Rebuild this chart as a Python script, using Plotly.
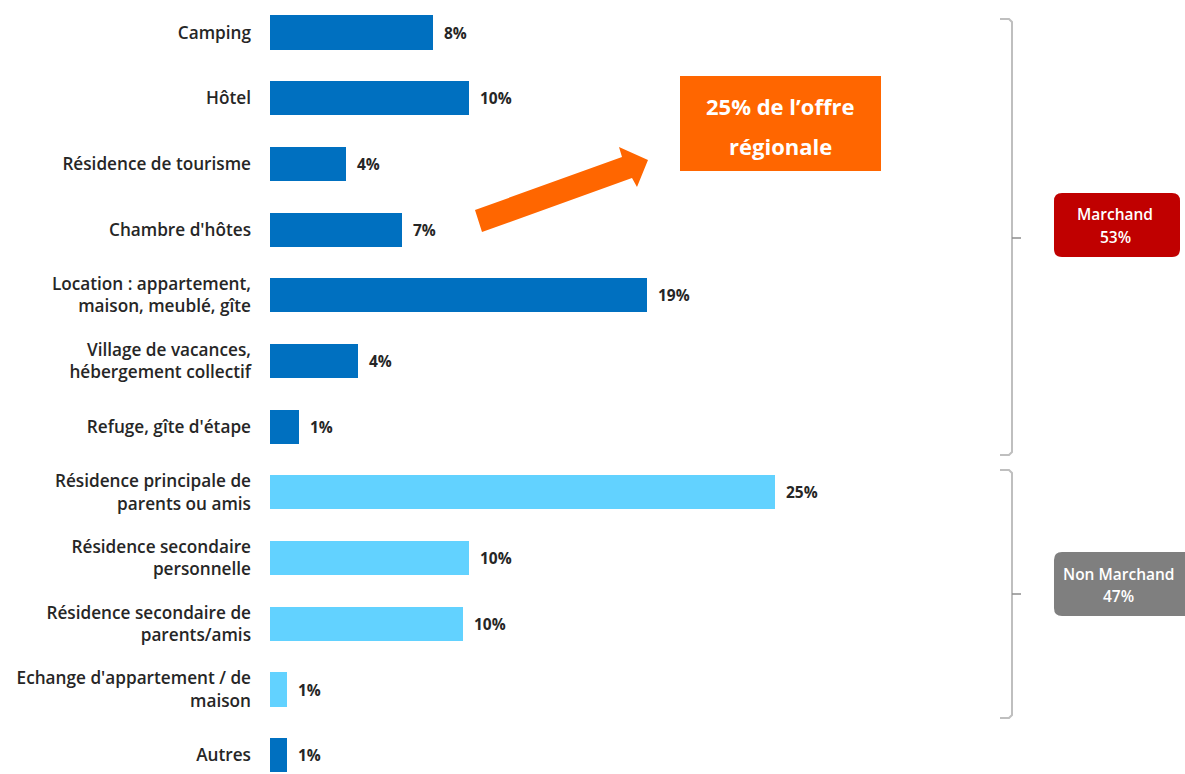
import plotly.graph_objects as go

categories = [
    "Camping",
    "Hôtel",
    "Résidence de tourisme",
    "Chambre d'hôtes",
    "Location : appartement,<br>maison, meublé, gîte",
    "Village de vacances,<br>hébergement collectif",
    "Refuge, gîte d'étape",
    "Résidence principale de<br>parents ou amis",
    "Résidence secondaire<br>personnelle",
    "Résidence secondaire de<br>parents/amis",
    "Echange d'appartement / de<br>maison",
    "Autres",
]
values = [8.15, 9.95, 3.8, 6.6, 18.85, 4.4, 1.45, 25.25, 9.95, 9.65, 0.85, 0.85]
value_labels = ["8%", "10%", "4%", "7%", "19%", "4%", "1%", "25%", "10%", "10%", "1%", "1%"]
groups = ["M", "M", "M", "M", "M", "M", "M", "N", "N", "N", "N", "A"]
group_names = ["Marchand", "53%", "Non Marchand", "47%"]
callout_lines = ["25% de l’offre", "régionale"]

DARK = "#0070C0"
LIGHT = "#62D2FF"
colors = [LIGHT if g == "N" else DARK for g in groups]

W, H = 1185, 774
L, R, T, B = 270, 0, 0, 0
PW, PH = W - L - R, H - T - B
PX_PER_UNIT = 20.0
ROW = 65.7
FIRST = 32.5

def px(x):
    return (x - L) / PW

def py(y):
    return 1 - (y - T) / PH

FONT = "Open Sans"
TXT = "#262626"

fig = go.Figure()
fig.add_trace(go.Bar(
    x=values, y=categories, orientation="h",
    marker=dict(color=colors, line=dict(width=0)),
    width=0.52, hoverinfo="skip",
))

for v, c, lab in zip(values, categories, value_labels):
    fig.add_annotation(x=v, y=c, xref="x", yref="y", text=lab, showarrow=False,
                       xanchor="left", yanchor="middle", xshift=9,
                       font=dict(family=FONT, size=15.5, color=TXT, weight=700))

shapes = []
def path(points, closed=False):
    s = "M " + " L ".join(f"{px(x):.5f},{py(y):.5f}" for x, y in points)
    return s + (" Z" if closed else "")

def bracket(top, bot, mid):
    pts = [(1000, top), (1009, top), (1012, top + 3), (1012, bot - 3), (1009, bot), (1000, bot)]
    shapes.append(dict(type="path", xref="paper", yref="paper", path=path(pts),
                       line=dict(color="#BFBFBF", width=2)))
    shapes.append(dict(type="path", xref="paper", yref="paper", path=path([(1012, mid), (1021, mid)]),
                       line=dict(color="#8c8c8c", width=1.5)))

bracket(19, 455, 238)
bracket(470, 718, 594)

def rrect(x0, y0, x1, y1, r, color):
    d = (f"M {px(x0 + r):.5f},{py(y0):.5f} L {px(x1 - r):.5f},{py(y0):.5f} "
         f"Q {px(x1):.5f},{py(y0):.5f} {px(x1):.5f},{py(y0 + r):.5f} "
         f"L {px(x1):.5f},{py(y1 - r):.5f} Q {px(x1):.5f},{py(y1):.5f} {px(x1 - r):.5f},{py(y1):.5f} "
         f"L {px(x0 + r):.5f},{py(y1):.5f} Q {px(x0):.5f},{py(y1):.5f} {px(x0):.5f},{py(y1 - r):.5f} "
         f"L {px(x0):.5f},{py(y0 + r):.5f} Q {px(x0):.5f},{py(y0):.5f} {px(x0 + r):.5f},{py(y0):.5f} Z")
    shapes.append(dict(type="path", xref="paper", yref="paper", path=d,
                       fillcolor=color, line=dict(width=0), layer="above"))

rrect(1054, 193, 1180, 257, 8, "#C00000")
rrect(1054, 552, 1192, 616, 8, "#7F7F7F")

# orange callout box
shapes.append(dict(type="rect", xref="paper", yref="paper",
                   x0=px(680), x1=px(881), y0=py(171), y1=py(76),
                   fillcolor="#FF6600", line=dict(width=0)))
# orange arrow
arrow_pts = [(475, 210), (622, 157), (619, 147), (648, 160), (637, 187), (632, 178), (482, 232)]
shapes.append(dict(type="path", xref="paper", yref="paper", path=path(arrow_pts, closed=True),
                   fillcolor="#FF6600", line=dict(width=0)))

def label(x, y, text, size, weight=600):
    fig.add_annotation(x=px(x), y=py(y), xref="paper", yref="paper", text=text, showarrow=False,
                       xanchor="center", yanchor="middle",
                       font=dict(family=FONT, size=size, color="white", weight=weight))

label(1115, 214, group_names[0], 15.5)
label(1115, 237, group_names[1], 15.5)
label(1118, 574, group_names[2], 15.5)
label(1118, 596, group_names[3], 15.5)
label(780, 106, callout_lines[0], 22, 700)
label(780, 146, callout_lines[1], 22, 700)

fig.update_layout(
    width=W, height=H, margin=dict(l=L, r=R, t=T, b=B, pad=0),
    plot_bgcolor="white", paper_bgcolor="white", showlegend=False,
    shapes=shapes, bargap=0,
    xaxis=dict(range=[0, PW / PX_PER_UNIT], visible=False, fixedrange=True),
    yaxis=dict(
        type="category", categoryorder="array", categoryarray=categories,
        range=[(H - FIRST) / ROW, -FIRST / ROW],
        showgrid=False, zeroline=False, showline=False, ticks="",
        ticklabelstandoff=18,
        tickfont=dict(family=FONT, size=17.2, color=TXT, weight=600),
        fixedrange=True,
    ),
)

fig.write_html("out.html")
